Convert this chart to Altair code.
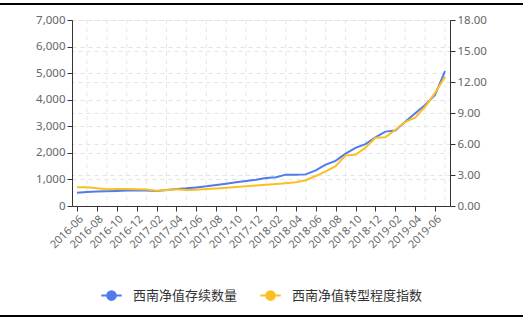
import altair as alt
import pandas as pd

months = [
    "2016-06", "2016-07", "2016-08", "2016-09", "2016-10", "2016-11", "2016-12",
    "2017-01", "2017-02", "2017-03", "2017-04", "2017-05", "2017-06", "2017-07",
    "2017-08", "2017-09", "2017-10", "2017-11", "2017-12", "2018-01", "2018-02",
    "2018-03", "2018-04", "2018-05", "2018-06", "2018-07", "2018-08", "2018-09",
    "2018-10", "2018-11", "2018-12", "2019-01", "2019-02", "2019-03", "2019-04",
    "2019-05", "2019-06", "2019-07",
]
stock = [
    500, 530, 545, 555, 565, 580, 590, 580, 560, 600, 640, 665, 700, 740,
    790, 840, 890, 940, 990, 1050, 1080, 1180, 1180, 1190, 1340, 1560, 1700,
    1970, 2190, 2330, 2580, 2800, 2840, 3170, 3490, 3800, 4180, 5080,
]
index_vals = [
    1.81, 1.81, 1.72, 1.62, 1.65, 1.65, 1.62, 1.60, 1.48, 1.55, 1.62, 1.55,
    1.58, 1.65, 1.70, 1.77, 1.85, 1.92, 1.98, 2.05, 2.12, 2.20, 2.30, 2.50,
    2.90, 3.35, 3.85, 4.90, 4.95, 5.65, 6.60, 6.65, 7.35, 8.15, 8.55, 9.60,
    10.95, 12.50,
]
series_names = ["西南净值存续数量", "西南净值转型程度指数"]
colors = ["#4F7CEB", "#FCBF22"]
left_ticks = [0, 1000, 2000, 3000, 4000, 5000, 6000, 7000]
right_ticks = [0, 3, 6, 9, 12, 15, 18]

df1 = pd.DataFrame({"month": months, "v": stock, "s": series_names[0]})
df2 = pd.DataFrame({"month": months, "v": index_vals, "s": series_names[1]})
df_grid = pd.DataFrame({"month": months[1::2]})

xscale = alt.Scale(type="point", padding=0.5, domain=months)
xaxis = alt.Axis(
    values=months[::2], title=None, labelAngle=-45, labelColor="#666",
    labelFontSize=11, labelFont="Noto Sans", domainColor="#333",
    tickColor="#333", tickSize=5, grid=False, labelPadding=2,
)

sym_path = (
    "M-1,0L1,0"
    "M0.42,0A0.42,0.42,0,1,1,-0.42,0A0.42,0.42,0,1,1,0.42,0Z"
    "M0.24,0A0.24,0.24,0,1,1,-0.24,0A0.24,0.24,0,1,1,0.24,0Z"
    "M0.08,0A0.08,0.08,0,1,1,-0.08,0A0.08,0.08,0,1,1,0.08,0Z"
)
cscale = alt.Scale(domain=series_names, range=colors)
leg = alt.Legend(
    title=None, orient="bottom", direction="horizontal", symbolType=sym_path,
    symbolSize=420, symbolStrokeWidth=2, padding=28, offset=6,
    labelFont="Noto Sans CJK SC", labelFontSize=13, labelColor="#333",
    labelOffset=10, columnPadding=18,
)

vgrid = alt.Chart(df_grid).mark_rule(
    color="#e6e6e6", strokeDash=[4, 4], strokeWidth=1
).encode(x=alt.X("month:O", scale=xscale, axis=xaxis))

left = alt.Chart(df1).mark_line(strokeWidth=2).encode(
    x=alt.X("month:O", scale=xscale, axis=xaxis),
    y=alt.Y(
        "v:Q", scale=alt.Scale(domain=[0, 7000], nice=False),
        axis=alt.Axis(
            values=left_ticks, format=",.0f", title=None, orient="left",
            labelColor="#666", labelFontSize=11.5, labelFont="Noto Sans",
            domainColor="#333", tickColor="#333", tickSize=5,
            grid=True, gridColor="#e3e3e3", gridDash=[4, 4],
        ),
    ),
    color=alt.Color("s:N", scale=cscale, legend=leg),
)

right = alt.Chart(df2).mark_line(strokeWidth=2).encode(
    x=alt.X("month:O", scale=xscale, axis=xaxis),
    y=alt.Y(
        "v:Q", scale=alt.Scale(domain=[0, 18], nice=False),
        axis=alt.Axis(
            values=right_ticks, format=".2f", title=None, orient="right",
            labelColor="#666", labelFontSize=11.5, labelFont="Noto Sans",
            domainColor="#333", tickColor="#333", tickSize=5,
            grid=True, gridColor="#e3e3e3", gridDash=[4, 4],
        ),
    ),
    color=alt.Color("s:N", scale=cscale, legend=leg),
)

top_border = alt.Chart(df_grid).mark_rule(color="#000", strokeWidth=2).encode(
    x=alt.value(-72), x2=alt.value(451), y=alt.value(-16)
)
bottom_border = alt.Chart(df_grid).mark_rule(color="#000", strokeWidth=2).encode(
    x=alt.value(-72), x2=alt.value(451), y=alt.value(296)
)

chart = (
    alt.layer(vgrid, left, right, top_border, bottom_border)
    .resolve_scale(y="independent")
    .properties(
        width=378, height=186,
        autosize=alt.AutoSizeParams(type="none"),
        padding={"left": 72, "top": 20, "right": 73, "bottom": 115},
        background="white",
    )
    .configure_view(stroke=None)
)

chart.save("out.html", embed_options={"renderer": "svg", "actions": False})
